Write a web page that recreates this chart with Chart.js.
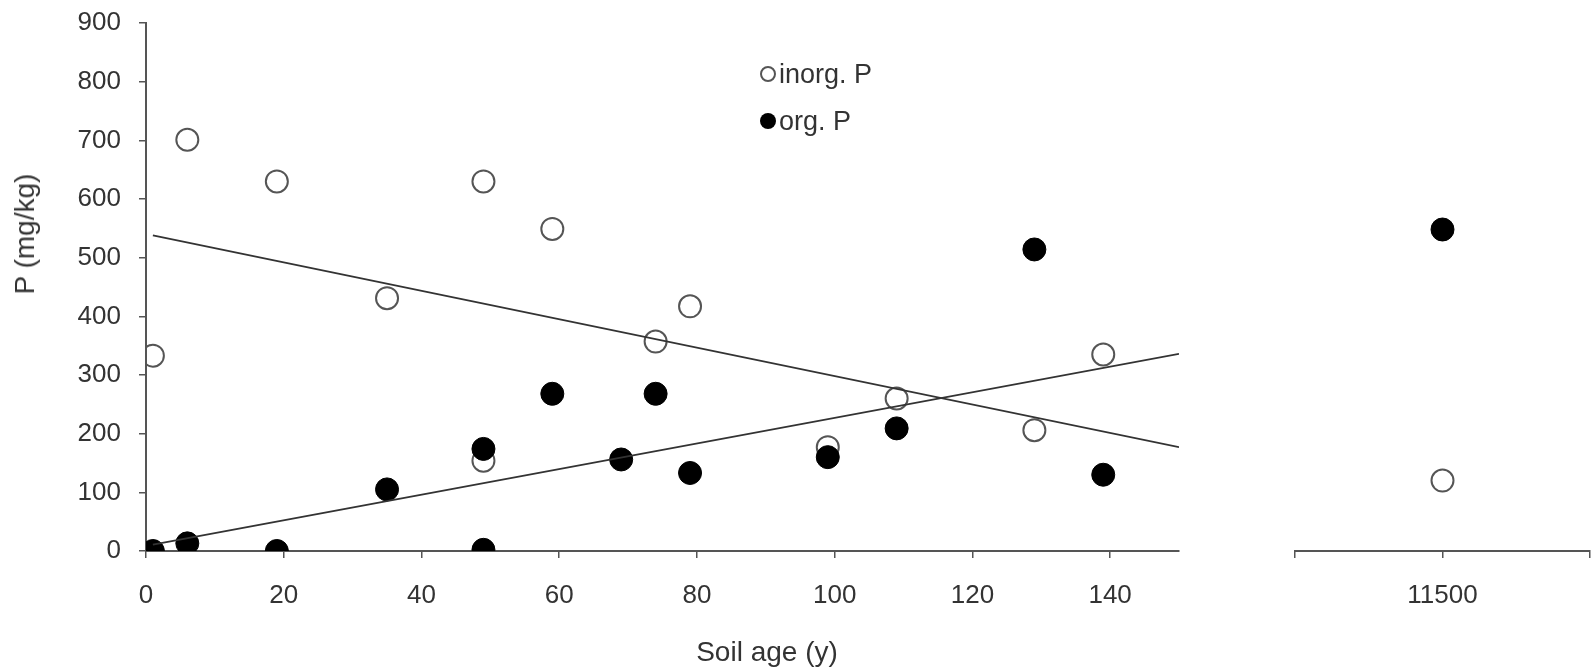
<!DOCTYPE html>
<html>
<head>
<meta charset="utf-8">
<script src="https://cdn.jsdelivr.net/npm/chart.js@4/dist/chart.umd.min.js"></script>
<style>
  html, body { margin: 0; padding: 0; background: #fff; }
  #wrap { position: relative; width: 1593px; height: 670px; overflow: hidden; font-family: "Liberation Sans", Arial, sans-serif; color: #333; }
  #mainBox { position: absolute; left: 0; top: 0; width: 1200px; height: 670px; }
  #sideBox { position: absolute; left: 1200px; top: 0; width: 393px; height: 670px; }
  .ytitle { position: absolute; left: 25px; top: 234px; transform: translate(-50%, -50%) rotate(-90deg); font-size: 28px; white-space: nowrap; }
  .xtitle { position: absolute; left: 767px; top: 652px; transform: translate(-50%, -50%); font-size: 28px; white-space: nowrap; }
  .legend { position: absolute; left: 760px; top: 50px; font-size: 27px; line-height: 48px; }
  .legend .item { display: flex; align-items: center; height: 47px; }
  .legend .mk { width: 16px; height: 16px; border-radius: 50%; box-sizing: border-box; margin-right: 3px; }
  .legend .open { border: 2px solid #555; background: transparent; }
  .legend .fill { background: #000; }
</style>
</head>
<body>
<div id="wrap">
  <div id="mainBox"><canvas id="main" width="1200" height="670"></canvas></div>
  <div id="sideBox"><canvas id="side" width="393" height="670"></canvas></div>
  <div class="ytitle">P (mg/kg)</div>
  <div class="xtitle">Soil age (y)</div>
  <div class="legend">
    <div class="item"><span class="mk open"></span><span>inorg. P</span></div>
    <div class="item"><span class="mk fill"></span><span>org. P</span></div>
  </div>
</div>
<script>
// ---- data ----
const ageInorg = [1, 6, 19, 35, 49, 49, 59, 74, 79, 99, 109, 129, 139];
const inorgP   = [333, 701, 630, 431, 630, 154, 549, 357, 417, 177, 260, 206, 335];
const ageOrg   = [1, 6, 19, 35, 49, 49, 59, 69, 74, 79, 99, 109, 129, 139];
const orgP     = [0, 13, 0, 105, 2, 174, 268, 156, 268, 133, 160, 209, 514, 130];
const ageOld   = [11500];
const inorgOld = [120];
const orgOld   = [548];
const trendX     = [1, 150];
const inorgTrend = [538, 177];
const orgTrend   = [11, 336];
const yTicks = [0, 100, 200, 300, 400, 500, 600, 700, 800, 900];
const xTicksMain = [0, 20, 40, 60, 80, 100, 120, 140];
const xTicksSide = [11000, 11500, 12000];
const xTickSideLabel = 11500;

const pts = (xs, ys) => xs.map((x, i) => ({ x: x, y: ys[i] }));
const FONT = { family: '"Liberation Sans", Arial, sans-serif', size: 26 };
const AXIS = '#555';
const TXT = '#333';

const orgStyle = { backgroundColor: '#000', borderColor: '#000', borderWidth: 1, pointRadius: 11.5, pointHoverRadius: 11.5 };
const inorgStyle = { backgroundColor: 'rgba(0,0,0,0)', borderColor: '#555', borderWidth: 2, pointRadius: 11, pointHoverRadius: 11 };

function yScale(display, width) {
  return {
    display: display,
    min: 0, max: 900,
    afterBuildTicks: s => { s.ticks = yTicks.map(v => ({ value: v })); },
    ticks: { font: FONT, color: TXT, padding: 18 },
    grid: { drawOnChartArea: false, drawTicks: true, tickLength: 7, color: AXIS, lineWidth: 1.5 },
    border: { display: true, color: AXIS, width: 2 },
    afterFit: s => { if (width !== undefined) s.width = width; s.paddingTop = 0; s.paddingBottom = 0; }
  };
}

function xScale(min, max, tickArr, cb) {
  return {
    type: 'linear', min: min, max: max,
    afterBuildTicks: s => { s.ticks = tickArr.map(v => ({ value: v })); },
    ticks: Object.assign({ font: FONT, color: TXT, padding: 22, maxRotation: 0 }, cb ? { callback: cb } : {}),
    grid: { drawOnChartArea: false, drawTicks: true, tickLength: 7, color: AXIS, lineWidth: 1.5 },
    border: { display: true, color: AXIS, width: 2 },
    afterFit: s => { s.height = 119; s.paddingLeft = 0; s.paddingRight = 0; }
  };
}

new Chart(document.getElementById('main'), {
  type: 'scatter',
  data: {
    datasets: [
      { label: 'inorg trend', data: pts(trendX, inorgTrend), showLine: true, borderColor: '#333', borderWidth: 1.8, pointRadius: 0, order: 0 },
      { label: 'org trend', data: pts(trendX, orgTrend), showLine: true, borderColor: '#333', borderWidth: 1.8, pointRadius: 0, order: 0 },
      Object.assign({ label: 'org. P', data: pts(ageOrg, orgP), order: 1 }, orgStyle),
      Object.assign({ label: 'inorg. P', data: pts(ageInorg, inorgP), order: 2 }, inorgStyle)
    ]
  },
  options: {
    responsive: false,
    animation: false,
    events: [],
    layout: { autoPadding: false, padding: { top: 23, right: 21, left: 0, bottom: 0 } },
    plugins: { legend: { display: false }, tooltip: { enabled: false } },
    scales: {
      x: xScale(0, 150, xTicksMain),
      y: yScale(true, 146)
    }
  }
});

new Chart(document.getElementById('side'), {
  type: 'scatter',
  data: {
    datasets: [
      Object.assign({ label: 'org. P', data: pts(ageOld, orgOld), order: 1 }, orgStyle),
      Object.assign({ label: 'inorg. P', data: pts(ageOld, inorgOld), order: 2 }, inorgStyle)
    ]
  },
  options: {
    responsive: false,
    animation: false,
    events: [],
    layout: { autoPadding: false, padding: { top: 23, right: 3, left: 95, bottom: 0 } },
    plugins: { legend: { display: false }, tooltip: { enabled: false } },
    scales: {
      x: xScale(11000, 12000, xTicksSide, v => (v === xTickSideLabel ? String(v) : '')),
      y: yScale(false)
    }
  }
});
</script>
</body>
</html>
